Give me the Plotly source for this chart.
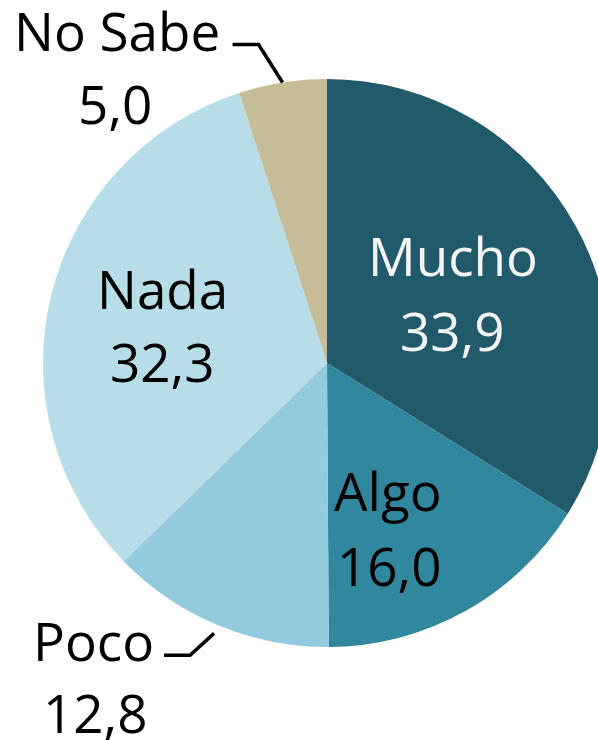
import math
import plotly.graph_objects as go

categories = ["Mucho", "Algo", "Poco", "Nada", "No Sabe"]
values = [33.9, 16.0, 12.8, 32.3, 5.0]
colors = ["#215a6b", "#31879e", "#93cade", "#b6dde8", "#c4bd97"]
text_colors = ["#f4f4f4", "#000000", "#000000", "#000000", "#000000"]

# figure is a bit wider than the window: the pie is cut at the right edge, as in the original
W, H = 620, 760
FONT = "Open Sans"
FS = 53

# pie geometry in page pixels
cx, cy, r_px = 327, 363, 284


def px(x, y):
    """page pixel -> paper coords"""
    return x / W, 1 - y / H


fig = go.Figure(go.Pie(
    labels=categories,
    values=values,
    sort=False,
    direction="clockwise",
    rotation=0,
    marker=dict(colors=colors, line=dict(width=0)),
    textinfo="none",
    domain=dict(x=[(cx - r_px) / W, (cx + r_px) / W],
                y=[1 - (cy + r_px) / H, 1 - (cy - r_px) / H]),
    showlegend=False,
    hoverinfo="label+value",
))

total = sum(values)
cum = 0
mid_angle = {}
for c, v in zip(categories, values):
    mid_angle[c] = (cum + v / 2) / total * 2 * math.pi
    cum += v

# label placement (page pixels): name center x, name mid y, value center x, value mid y
label_pos = {
    "Mucho": (453, 255, 453, 330),
    "Algo": (388, 491, 389, 565),
    "Poco": (93, 640, 95, 712),
    "Nada": (162, 288, 162, 361),
    "No Sabe": (117, 31, 115, 104),
}

# leader lines for outside labels: gap from edge, bend offset, horizontal length
leaders = {
    "No Sabe": (0, -24, -38, -26),
    "Poco": (9, -24, 22, -26),
}

annotations = []
for i, name in enumerate(categories):
    nx, ny, vx, vy = label_pos[name]
    val = f"{values[i]:.1f}".replace(".", ",")
    for txt, tx, ty in ((name, nx, ny), (val, vx, vy)):
        x_, y_ = px(tx, ty)
        annotations.append(dict(
            text=txt, x=x_, y=y_, xref="paper", yref="paper",
            xanchor="center", yanchor="middle", showarrow=False,
            font=dict(family=FONT, size=FS, color=text_colors[i]),
        ))

shapes = []
for name, (gap, bdx, bdy, hl) in leaders.items():
    a = mid_angle[name]
    sx = cx + (r_px + gap) * math.sin(a)
    sy = cy - (r_px + gap) * math.cos(a)
    bx, by = sx + bdx, sy + bdy
    ex, ey = bx + hl, by
    p0, p1, p2 = px(sx, sy), px(bx, by), px(ex, ey)
    shapes.append(dict(
        type="path", xref="paper", yref="paper",
        path=f"M {p0[0]},{p0[1]} L {p1[0]},{p1[1]} L {p2[0]},{p2[1]}",
        line=dict(color="#000000", width=3.5),
    ))

fig.update_layout(
    width=W,
    height=H,
    margin=dict(l=0, r=0, t=0, b=0),
    paper_bgcolor="#ffffff",
    font=dict(family=FONT, color="#000000"),
    shapes=shapes,
    annotations=annotations,
)

fig.write_html(
    "out.html",
    config={"displayModeBar": False},
    post_script=(
        "document.body.style.margin='0';"
        "document.documentElement.style.overflow='hidden';"
        "document.body.style.overflow='hidden';"
    ),
)
